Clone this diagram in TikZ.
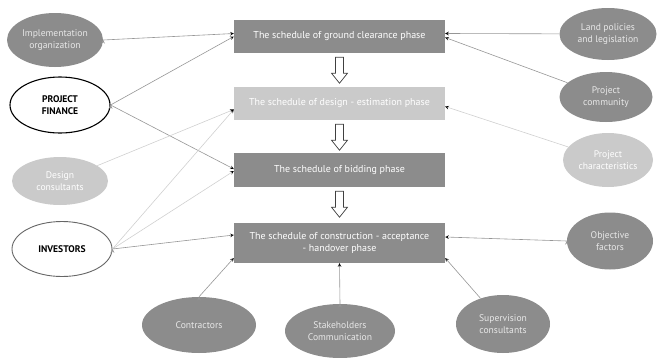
\documentclass[tikz,border=0pt]{standalone}
\usepackage{fontspec}
\setmainfont{PT Sans}
\usetikzlibrary{shapes.geometric}
\definecolor{darkfill}{RGB}{140,140,140}
\definecolor{lightfill}{RGB}{202,202,202}
\definecolor{softtext}{RGB}{232,232,232}
\definecolor{linkgray}{RGB}{150,150,150}
\definecolor{linklight}{RGB}{208,208,208}
\tikzset{
  phase/.style={fill=darkfill, text=white, minimum width=211pt, align=center,
    inner sep=2pt, font=\fontsize{10}{12}\selectfont},
  factor/.style={ellipse, fill=darkfill, text=softtext, align=center, inner sep=0pt,
    font=\fontsize{9.6}{11.5}\selectfont},
  key/.style={ellipse, draw, fill=white, align=center, inner sep=0pt,
    font=\fontsize{9.6}{11.5}\selectfont\bfseries},
  link/.style={-stealth, draw=linkgray, line width=0.6pt},
  faint/.style={-stealth, draw=linklight, line width=0.6pt},
  hollow/.style={draw=black!75, fill=white, line width=0.7pt, line join=miter}
}
\newcommand{\phasestep}[1]{%
  \draw [hollow] (#1.south) ++(-4,4) -- ++(0,16) -- ++(-4,0) -- ++(8,10)
    -- ++(8,-10) -- ++(-4,0) -- ++(0,-16) -- cycle;}
\begin{document}
\begin{tikzpicture}[x=1pt,y=-1pt]
\useasboundingbox (0,0) rectangle (657,357);
\node [phase, minimum height=33pt](B1) at (339.5,36.5){The schedule of ground clearance phase};
\node [phase, fill=lightfill, minimum height=33pt](B2) at (339.5,103.5){The schedule of design - estimation phase};
\node [phase, minimum height=34pt](B3) at (339.5,170){The schedule of bidding phase};
\node [phase, minimum height=40pt](B4) at (339.5,243){The schedule of construction - acceptance\\- handover phase};
\phasestep{B1}
\phasestep{B2}
\phasestep{B3}
\node [factor, minimum width=96pt, minimum height=54pt](Impl) at (55,40){Implementation\\organization};
\node [key, draw=black, line width=1.1pt, minimum width=100pt, minimum height=56pt](Finance) at (60,105){PROJECT\\FINANCE};
\node [factor, fill=lightfill, text=white, minimum width=96pt, minimum height=48pt](Design) at (60,181){Design\\consultants};
\node [key, draw=black!60, line width=0.9pt, minimum width=100pt, minimum height=55pt](Investors) at (62,249){INVESTORS};
\node [factor, minimum width=114pt, minimum height=56pt](Contractors) at (199,325){Contractors};
\node [factor, minimum width=110pt, minimum height=54pt](Stake) at (340,331){Stakeholders\\Communication};
\node [factor, minimum width=94pt, minimum height=58pt](Supervision) at (503,324){Supervision\\consultants};
\node [factor, minimum width=97pt, minimum height=52pt](Land) at (608,34){Land policies\\and legislation};
\node [factor, minimum width=93pt, minimum height=50pt](Community) at (606,97){Project\\community};
\node [factor, fill=lightfill, text=white, minimum width=90pt, minimum height=54pt](Character) at (608,160){Project\\characteristics};
\node [factor, minimum width=86pt, minimum height=57pt](Objective) at (610,241){Objective\\factors};
\draw [link](Impl.east) edge ([yshift=3pt]B1.west);
\draw [link](Finance.east) edge (B1.west);
\draw [link](Finance.east) edge ([yshift=1pt]B3.west);
\draw [faint](Design) edge ([yshift=-6pt]B2.west);
\draw [faint](Investors.east) edge ([yshift=-6pt]B2.west);
\draw [faint](Investors.east) edge ([yshift=-1pt]B3.west);
\draw [link](Investors.east) edge ([yshift=8pt]B4.west);
\draw [link](Contractors.north) edge ([yshift=-15pt]B4.west);
\draw [link](Stake.north) edge (B4.south);
\draw [link](Supervision) edge ([yshift=-15pt]B4.east);
\draw [link](Objective.west) edge ([yshift=6pt]B4.east);
\draw [link](Land) edge ([yshift=3pt]B1.east);
\draw [link](Community) edge ([yshift=-1pt]B1.east);
\draw [faint](Character) edge ([yshift=-3pt]B2.east);
\end{tikzpicture}
\end{document}
